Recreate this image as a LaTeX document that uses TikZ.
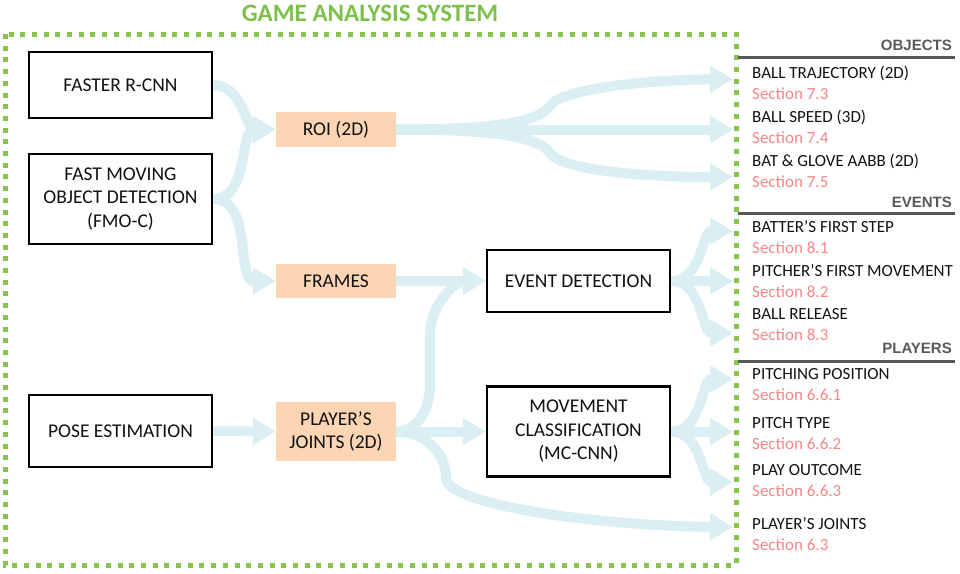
\documentclass[tikz,border=0pt]{standalone}
\usepackage{fontspec}
\setmainfont{Carlito}
\newfontfamily\hdrfont{Liberation Sans}
\usetikzlibrary{arrows.meta,backgrounds}
\definecolor{frame}{HTML}{86C450}
\definecolor{titlegreen}{HTML}{7DC14B}
\definecolor{flowblue}{HTML}{DAEEF3}
\definecolor{peach}{HTML}{FCD5B5}
\definecolor{ink}{HTML}{111111}
\definecolor{rule}{HTML}{595959}
\definecolor{secred}{HTML}{F4878A}
\tikzset{
  module/.style={draw=black, line width=2.2pt, fill=white, align=center, inner sep=0pt,
    minimum width=183, text=ink, font=\fontsize{19.5}{23.5}\selectfont},
  data/.style={fill=peach, align=center, inner sep=0pt, minimum width=120,
    text=ink, font=\fontsize{19.5}{23.5}\selectfont},
  flow/.style={draw=flowblue, line width=10pt, -{Triangle[length=23pt,width=26pt]}},
  border/.style={draw=frame, line width=5pt, dash pattern=on 5pt off 6.7pt},
  item/.style={anchor=west, inner sep=0pt, text height=11pt, text depth=0pt,
    text=ink, font=\fontsize{17}{20}\selectfont},
  sec/.style={item, text=secred},
  hdr/.style={anchor=east, inner sep=0pt, text height=10.7pt, text depth=0pt,
    text=rule, font=\hdrfont\bfseries\fontsize{15}{18}\selectfont},
  hdrline/.style={draw=rule, line width=3pt},
  title/.style={text=titlegreen, font=\bfseries\fontsize{25}{30}\selectfont},
}

\begin{document}
\begin{tikzpicture}[x=1pt, y=-1pt]
\useasboundingbox (0,0) rectangle (960,573);

% detectors
\node[module, minimum height=66] (frcnn) at (120.5,85) {FASTER R-CNN};
\node[module, minimum height=90] (fmo) at (120.5,199) {FAST MOVING\\OBJECT DETECTION\\(FMO-C)};
\node[module, minimum height=72] (pose) at (120.5,431) {POSE ESTIMATION};

% intermediate data
\node[data, minimum height=35] (roi) at (336,129.5) {ROI (2D)};
\node[data, minimum height=34] (frames) at (336,281) {FRAMES};
\node[data, minimum height=59] (joints) at (336,431.5) {PLAYER’S\\JOINTS (2D)};

% classifiers
\node[module, minimum height=62] (evt) at (578.5,281) {EVENT DETECTION};
\node[module, minimum height=90] (mc) at (578.5,431.5) {MOVEMENT\\CLASSIFICATION\\(MC-CNN)};

\node[title] (title) at (370,13.5) {GAME ANALYSIS SYSTEM};
\draw[border] (5,34) rectangle (736,565);

% outputs
\node[hdr] (objects) at (952,45) {OBJECTS};
\node[hdr] (events) at (952,202) {EVENTS};
\node[hdr] (players) at (952,348) {PLAYERS};
\draw[hdrline] (738,57) -- (955,57);
\draw[hdrline] (738,213) -- (955,213);
\draw[hdrline] (738,361) -- (955,361);

\foreach \nm/\y/\txt/\secno in {
  o1/73/BALL TRAJECTORY (2D)/7.3, o2/117/BALL SPEED (3D)/7.4,
  o3/161/BAT \& GLOVE AABB (2D)/7.5,
  e1/227/BATTER’S FIRST STEP/8.1, e2/271/PITCHER’S FIRST MOVEMENT/8.2,
  e3/314/BALL RELEASE/8.3,
  p1/374/PITCHING POSITION/6.6.1, p2/423/PITCH TYPE/6.6.2,
  p3/470/PLAY OUTCOME/6.6.3, p4/524/PLAYER’S JOINTS/6.3} {
  \node[item] (\nm) at (752,\y) {\txt};
  \node[sec] (\nm-s) at (752,\y+21) {Section \secno};
}

\foreach \nm/\y in {o1/79, o2/129.5, o3/177, e1/231, e2/281, e3/333,
  p1/379, p2/431.5, p3/482, p4/527}
  \coordinate (\nm-in) at (733,\y);

\begin{scope}[on background layer]
\draw[flow] (frcnn.east) to[out=0, in=180] (roi.west);
\draw[flow] (fmo.east) to[out=0, in=180] (roi.west);
\draw[flow] (fmo.east) to[out=0, in=180] (frames.west);
\draw[flow] (pose.east) -- (joints.west);

\draw[flow] (roi.east) .. controls (500,129.5) and (540,121) .. (550,106)
  .. controls (562,88) and (650,80) .. (o1-in);
\draw[flow] (roi.east) -- (o2-in);
\draw[flow] (roi.east) .. controls (500,129.5) and (540,138) .. (550,153)
  .. controls (562,171) and (650,177) .. (o3-in);

\draw[flow] (frames.east) -- (evt.west);
\draw[flow] (joints.east) to[out=0, in=-90] (430,385) -- (430,335)
  to[out=90, in=180] (evt.west);
\draw[flow] (joints.east) -- (mc.west);
\draw[flow] (joints.east) to[out=0, in=90] (446,478)
  .. controls (446,505) and (600,526) .. (p4-in);

\draw[flow] (evt.east) to[out=0, in=180] (e1-in);
\draw[flow] (evt.east) -- (e2-in);
\draw[flow] (evt.east) to[out=0, in=180] (e3-in);

\draw[flow] (mc.east) to[out=0, in=180] (p1-in);
\draw[flow] (mc.east) -- (p2-in);
\draw[flow] (mc.east) to[out=0, in=180] (p3-in);
\end{scope}
\end{tikzpicture}
\end{document}
